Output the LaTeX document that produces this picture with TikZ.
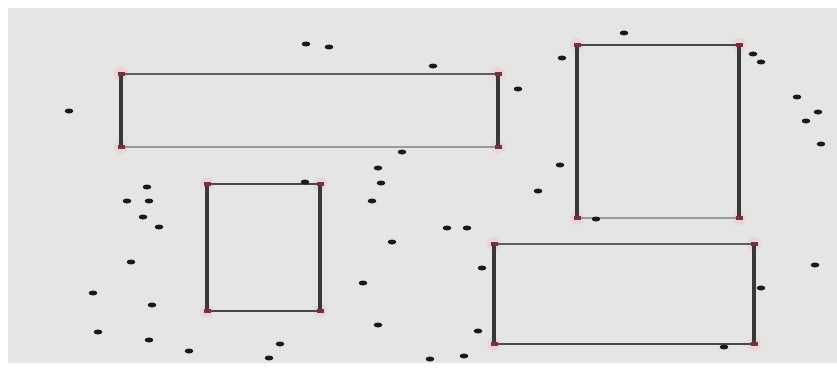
\documentclass[tikz,border=0pt]{standalone}
\usetikzlibrary{calc}
\definecolor{bg}{HTML}{E5E5E5}
\definecolor{cornerred}{HTML}{6F3440}
\definecolor{halo}{HTML}{F0C8CD}
\definecolor{thickline}{HTML}{383838}
\definecolor{midline}{HTML}{5E5E5E}
\definecolor{thinline}{HTML}{9A9A9A}
\definecolor{dashcol}{HTML}{1A1A1A}
\tikzset{
  sidethick/.style={draw=thickline, line width=3.3pt},
  edgedark/.style={draw=thickline!92!white, line width=2.6pt},
  edgemid/.style={draw=midline, line width=2pt},
  edgethin/.style={draw=thinline, line width=1.1pt},
  cornerhalo/.style={fill=halo, opacity=0.55},
  cornermark/.style={fill=cornerred},
  speck/.style={fill=dashcol}
}
\begin{document}
\begin{tikzpicture}[x=1pt,y=-1pt]
\useasboundingbox (0,0) rectangle (837,369);
\fill[white] (0,0) rectangle (837,369);
\fill[bg] (8,8) rectangle (837,363);

% rectangle corners
\coordinate (A1) at (121,74);  \coordinate (A2) at (498,74);
\coordinate (A3) at (498,147); \coordinate (A4) at (121,147);
\coordinate (B1) at (207,184); \coordinate (B2) at (320,184);
\coordinate (B3) at (320,311); \coordinate (B4) at (207,311);
\coordinate (C1) at (577,45);  \coordinate (C2) at (739,45);
\coordinate (C3) at (739,218); \coordinate (C4) at (577,218);
\coordinate (D1) at (494,244); \coordinate (D2) at (754,244);
\coordinate (D3) at (754,344); \coordinate (D4) at (494,344);

% halos
\foreach \c in {A1,A2,A3,A4,B1,B2,B3,B4,C1,C2,C3,C4,D1,D2,D3,D4}
  \fill[cornerhalo] (\c) circle (7);

% rectangle A
\draw[edgemid]  (A1) -- (A2);
\draw[edgethin] (A4) -- (A3);
\draw[sidethick] (A1) -- (A4);
\draw[sidethick] (A2) -- (A3);
% rectangle B
\draw[edgedark] (B1) -- (B2);
\draw[edgedark] (B4) -- (B3);
\draw[sidethick] (B1) -- (B4);
\draw[sidethick] (B2) -- (B3);
% rectangle C
\draw[edgedark] (C1) -- (C2);
\draw[edgethin] (C4) -- (C3);
\draw[sidethick] (C1) -- (C4);
\draw[sidethick] (C2) -- (C3);
% rectangle D
\draw[edgemid]  (D1) -- (D2);
\draw[edgedark] (D4) -- (D3);
\draw[sidethick] (D1) -- (D4);
\draw[sidethick] (D2) -- (D3);

% corner marks
\foreach \c in {A1,A2,A3,A4,B1,B2,B3,B4,C1,C2,C3,C4,D1,D2,D3,D4}
  \fill[cornermark] ($(\c)+(-3.5,-2)$) rectangle ($(\c)+(3.5,2)$);

% scattered specks
\foreach \x/\y in {306/44, 329/47, 433/66, 69/111, 518/89, 402/152, 378/168,
  381/183, 147/187, 127/201, 149/201, 143/217, 159/227, 372/201, 305/182,
  447/228, 467/228, 392/242, 131/262, 482/268, 93/293, 152/305, 363/283,
  98/332, 149/340, 189/351, 280/344, 269/358, 378/325, 478/331, 430/359,
  464/356, 538/191, 560/165, 562/58, 624/33, 596/219, 753/54, 761/62,
  797/97, 818/112, 806/121, 821/144, 815/265, 761/288, 724/347}
  \fill[speck] (\x,\y) ellipse [x radius=4.3, y radius=2.5];
\end{tikzpicture}
\end{document}
